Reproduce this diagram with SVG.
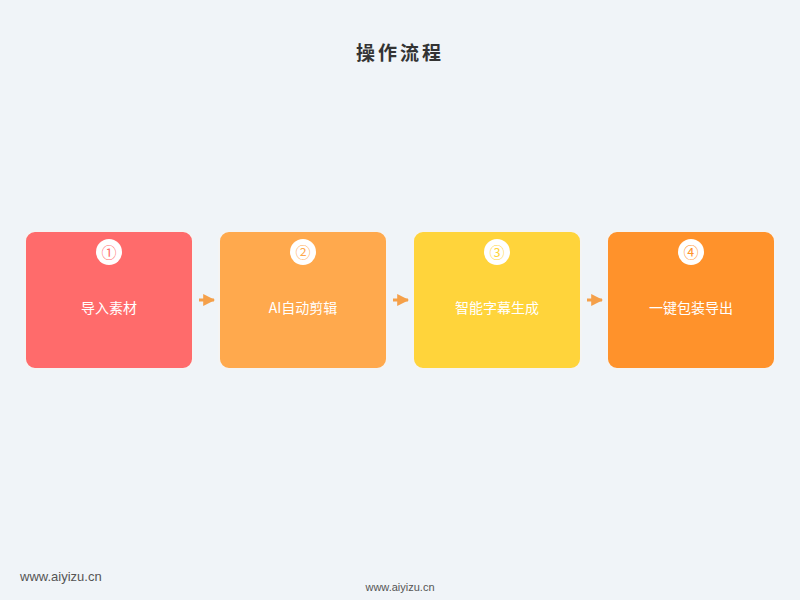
<svg xmlns="http://www.w3.org/2000/svg" width="800" height="600" viewBox="0 0 800 600">
<style>
.box{stroke:#f4f4f4;stroke-width:2}
.num{font-family:"Liberation Sans","Noto Sans CJK SC",sans-serif;font-size:15px;text-anchor:middle}
.lbl{font-family:"Noto Sans CJK SC","Liberation Sans",sans-serif;font-size:14px;fill:#fff;text-anchor:middle}
.wm{font-family:"Liberation Sans",sans-serif;fill:#555}
</style>
<defs>
<marker id="ah" viewBox="0 0 10 10" refX="9" refY="5" markerWidth="4" markerHeight="4" orient="auto">
<path d="M0,0 L10,5 L0,10 z" fill="#f5a04a"/>
</marker>
</defs>
<rect width="800" height="600" fill="#f0f4f8"/>
<text x="400" y="60" text-anchor="middle" font-family="Noto Sans CJK SC,sans-serif" font-size="19" font-weight="bold" letter-spacing="3" fill="#333">操作流程</text>
<g id="connectors" stroke="#f5a04a" stroke-width="3" fill="none">
<line x1="199" y1="300" x2="214" y2="300" marker-end="url(#ah)"/>
<line x1="393" y1="300" x2="408" y2="300" marker-end="url(#ah)"/>
<line x1="587" y1="300" x2="602" y2="300" marker-end="url(#ah)"/>
</g>
<g id="node1">
<rect class="box" x="25" y="231" width="168" height="138" rx="10" fill="#ff6b6b"/>
<circle cx="109" cy="252" r="13" fill="#fff"/>
<text class="num" x="109" y="257.500" fill="#ff6b6b">①</text>
<text class="lbl" x="109" y="313">导入素材</text>
</g>
<g id="node2">
<rect class="box" x="219" y="231" width="168" height="138" rx="10" fill="#ffa94d"/>
<circle cx="303" cy="252" r="13" fill="#fff"/>
<text class="num" x="303" y="257.500" fill="#ffa94d">②</text>
<text class="lbl" x="303" y="313">AI自动剪辑</text>
</g>
<g id="node3">
<rect class="box" x="413" y="231" width="168" height="138" rx="10" fill="#ffd43b"/>
<circle cx="497" cy="252" r="13" fill="#fff"/>
<text class="num" x="497" y="257.500" fill="#ffd43b">③</text>
<text class="lbl" x="497" y="313">智能字幕生成</text>
</g>
<g id="node4">
<rect class="box" x="607" y="231" width="168" height="138" rx="10" fill="#ff922b"/>
<circle cx="691" cy="252" r="13" fill="#fff"/>
<text class="num" x="691" y="257.500" fill="#ff922b">④</text>
<text class="lbl" x="691" y="313">一键包装导出</text>
</g>
<text class="wm" x="20" y="581" font-size="13">www.aiyizu.cn</text>
<text class="wm" x="400" y="591" font-size="11" text-anchor="middle">www.aiyizu.cn</text>
</svg>
